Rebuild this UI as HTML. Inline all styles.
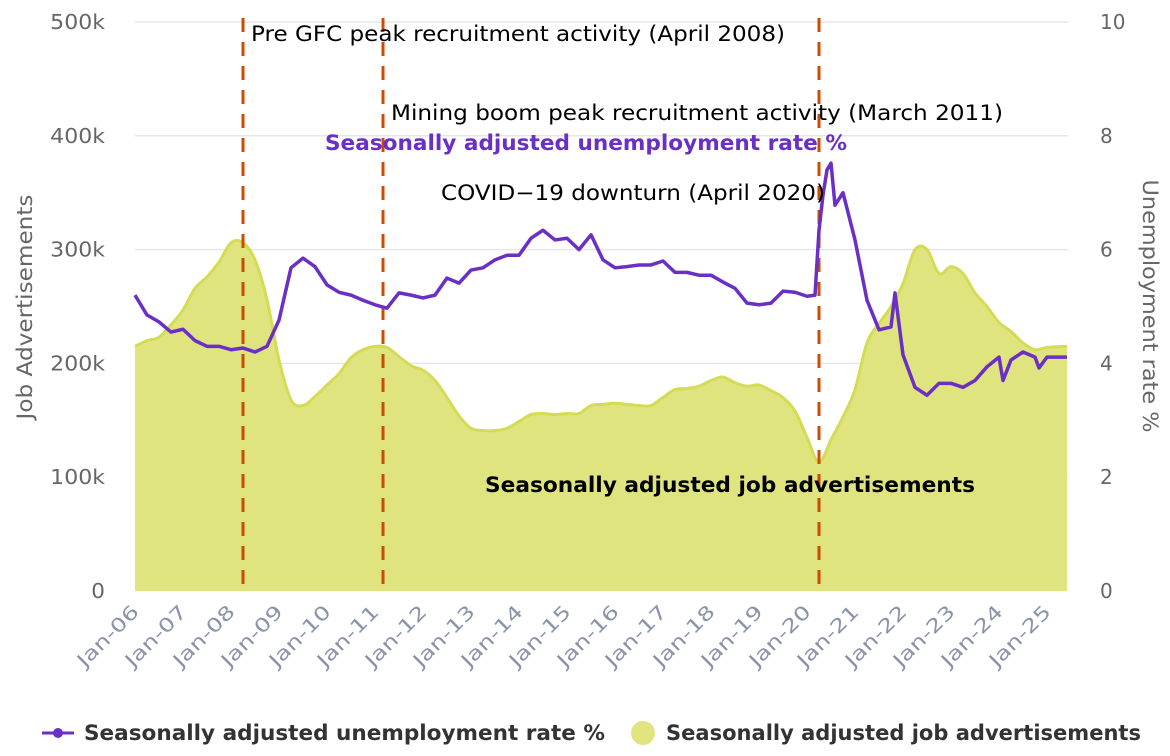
<!DOCTYPE html>
<html><head><meta charset="utf-8">
<style>
html,body{margin:0;padding:0;background:#fff;}
svg{display:block;font-family:"DejaVu Sans","Liberation Sans",sans-serif;}
</style></head>
<body>
<svg id="chart" width="1170" height="756" viewBox="0 0 1170 756">
<g id="grid"></g>
<g id="area"></g>
<g id="markers"></g>
<g id="line"></g>
<g id="axes"></g>
<text x="251" y="41" font-size="21" textLength="534" lengthAdjust="spacingAndGlyphs" fill="#000">Pre GFC peak recruitment activity (April 2008)</text>
<text x="391" y="120" font-size="21" textLength="612" lengthAdjust="spacingAndGlyphs" fill="#000">Mining boom peak recruitment activity (March 2011)</text>
<text x="325" y="150" font-size="21" textLength="522" lengthAdjust="spacingAndGlyphs" font-weight="bold" fill="#6a2fc4">Seasonally adjusted unemployment rate %</text>
<text x="441" y="200" font-size="21" textLength="384" lengthAdjust="spacingAndGlyphs" fill="#000">COVID−19 downturn (April 2020)</text>
<text x="485" y="492" font-size="21" textLength="490" lengthAdjust="spacingAndGlyphs" font-weight="bold" fill="#000">Seasonally adjusted job advertisements</text>
<text transform="translate(32,307) rotate(-90)" text-anchor="middle" font-size="21" textLength="225" lengthAdjust="spacingAndGlyphs" fill="#666">Job Advertisements</text>
<text transform="translate(1143,306) rotate(90)" text-anchor="middle" font-size="21" textLength="253" lengthAdjust="spacingAndGlyphs" fill="#666">Unemployment rate %</text>
<g>
<g>
<line x1="42" y1="733" x2="74" y2="733" stroke="#6a2fc4" stroke-width="3"/>
<circle cx="58" cy="733" r="5" fill="#6a2fc4"/>
<text x="84" y="740" font-size="21" textLength="521" lengthAdjust="spacingAndGlyphs" font-weight="bold" fill="#333">Seasonally adjusted unemployment rate %</text>
</g>
<g>
<circle cx="643" cy="733" r="12" fill="#dfe47f"/>
<text x="666" y="740" font-size="21" textLength="475" lengthAdjust="spacingAndGlyphs" font-weight="bold" fill="#333">Seasonally adjusted job advertisements</text>
</g>
</g>
</svg>
<script>
// months since Jan-2006
const adMonths=[0,3,6,9,12,15,18,21,24,27,30,33,36,39,42,45,48,51,54,57,60,63,66,69,72,75,78,81,84,87,90,93,96,99,102,105,108,111,114,117,120,123,126,129,132,135,138,141,144,147,150,153,156,159,162,165,168,171,174,177,180,183,186,189,192,195,198,201,204,207,210,213,216,219,222,225,228,233];
const adValues=[215,220,223,234,247,266,276,289,306,306,291,256,203,168,163,171,181,191,205,212,215,214,206,198,194,185,170,154,143,141,141,143,149,155,156,155,156,156,163,164,165,164,163,163,170,177,178,180,185,188,183,180,181,176,170,158,135,113,133,153,177,218,235,250,270,300,300,279,285,279,262,250,236,228,218,212,214,215];
const urMonths=[0,3,6,9,12,15,18,21,24,27,30,33,36,39,42,45,48,51,54,57,60,63,66,69,72,75,78,81,84,87,90,93,96,99,102,105,108,111,114,117,120,123,126,129,132,135,138,141,144,147,150,153,156,159,162,165,168,170,171,172,173,174,175,177,180,183,186,189,190,192,195,198,201,204,207,210,213,216,217,219,222,225,226,228,233];
const urValues=[5.2,4.85,4.73,4.55,4.6,4.4,4.3,4.3,4.24,4.27,4.2,4.3,4.76,5.68,5.85,5.7,5.38,5.25,5.2,5.11,5.03,4.97,5.24,5.2,5.15,5.2,5.5,5.41,5.64,5.68,5.82,5.9,5.9,6.2,6.34,6.17,6.2,6.0,6.26,5.82,5.68,5.7,5.73,5.73,5.8,5.6,5.6,5.55,5.55,5.43,5.32,5.06,5.03,5.06,5.27,5.25,5.18,5.2,6.34,6.96,7.4,7.52,6.78,7.0,6.17,5.11,4.59,4.64,5.24,4.15,3.58,3.44,3.65,3.65,3.58,3.7,3.94,4.11,3.7,4.06,4.2,4.11,3.92,4.11,4.11];
const leftTicks=[0,100,200,300,400,500];
const leftTickLabels=["0","100k","200k","300k","400k","500k"];
const rightTicks=[0,2,4,6,8,10];
const xTickLabels=["Jan-06","Jan-07","Jan-08","Jan-09","Jan-10","Jan-11","Jan-12","Jan-13","Jan-14","Jan-15","Jan-16","Jan-17","Jan-18","Jan-19","Jan-20","Jan-21","Jan-22","Jan-23","Jan-24","Jan-25"];
const eventMonths=[27,62,171];

const NS="http://www.w3.org/2000/svg";
const X0=135,X1=1068,YT=22,YB=591;
const xS=m=>X0+m*4;
const yL=v=>YB-(v/500)*(YB-YT);
const yR=v=>YB-(v/10)*(YB-YT);
function mk(tag,attrs,parent){const e=document.createElementNS(NS,tag);for(const k in attrs)e.setAttribute(k,attrs[k]);parent.appendChild(e);return e;}
function smooth(pts){let d="M"+pts[0][0]+","+pts[0][1];for(let i=0;i<pts.length-1;i++){const p0=pts[i-1]||pts[i],p1=pts[i],p2=pts[i+1],p3=pts[i+2]||p2;const c1=[p1[0]+(p2[0]-p0[0])/6,p1[1]+(p2[1]-p0[1])/6],c2=[p2[0]-(p3[0]-p1[0])/6,p2[1]-(p3[1]-p1[1])/6];d+=" C"+c1[0]+","+c1[1]+" "+c2[0]+","+c2[1]+" "+p2[0]+","+p2[1];}return d;}

const grid=document.getElementById('grid'),axes=document.getElementById('axes');
leftTicks.forEach((t,i)=>{
 if(t>0){const g=mk('line',{x1:X0,x2:X1,y1:yL(t),y2:yL(t),stroke:'#e6e6e6','stroke-width':1.5},grid);
 }
 const w=leftTickLabels[i].length*13.7;
 const tx=mk('text',{x:105,y:yL(t)+7,'text-anchor':'end','font-size':20,fill:'#666',textLength:w,lengthAdjust:'spacingAndGlyphs'},axes);tx.textContent=leftTickLabels[i];
 
});
rightTicks.forEach(t=>{
 const tx=mk('text',{x:1100,y:yR(t)+7,'text-anchor':'start','font-size':20,fill:'#666'},axes);tx.textContent=String(t);
 
});
xTickLabels.forEach((l,i)=>{
 const x=xS(i*12);
 const tx=mk('text',{transform:`translate(${x+5},${YB+22}) rotate(-45)`,'text-anchor':'end','font-size':19,fill:'#8a93a8',textLength:78,lengthAdjust:'spacingAndGlyphs'},axes);tx.textContent=l;
 
});

const area=document.getElementById('area');
const apts=adMonths.map((m,i)=>[xS(m),yL(adValues[i])]);
const ad=smooth(apts);
const fillP=mk('path',{d:ad+` L${apts[apts.length-1][0]},${YB} L${apts[0][0]},${YB} Z`,fill:'#dfe47f',stroke:'none'},area);

const strokeP=mk('path',{d:ad,fill:'none',stroke:'#d4dc56','stroke-width':3},area);


const markers=document.getElementById('markers');
eventMonths.forEach(m=>{
 const l=mk('line',{x1:xS(m),x2:xS(m),y1:18,y2:YB,stroke:'#cc4c02','stroke-width':3,'stroke-dasharray':'14,10'},markers);
 
});

const line=document.getElementById('line');
const up=urMonths.map((m,i)=>xS(m)+","+yR(urValues[i])).join(" ");
const pl=mk('polyline',{points:up,fill:'none',stroke:'#6a2fc4','stroke-width':3.5,'stroke-linejoin':'round'},line);

</script>
</body></html>
